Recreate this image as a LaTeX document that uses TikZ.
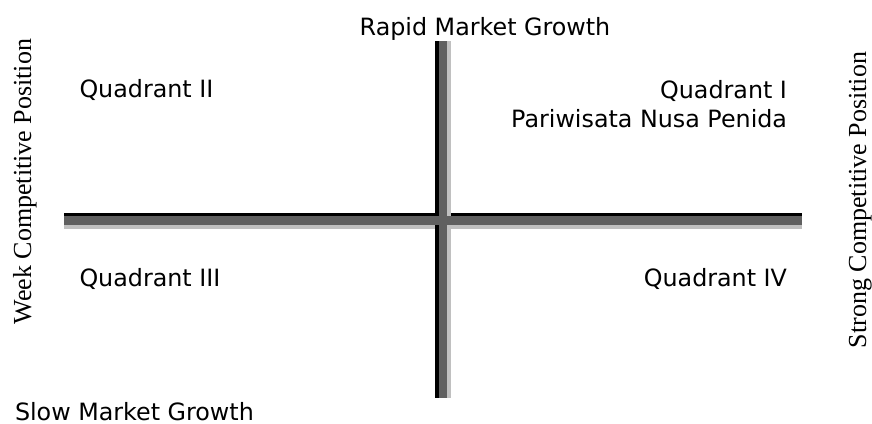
\documentclass[tikz,border=0pt]{standalone}
\usepackage{fontspec}
\setmainfont{Liberation Serif}
\newfontfamily\qsans{DejaVu Sans}
\definecolor{bardark}{HTML}{606060}
\definecolor{barlight}{HTML}{C0C0C0}
\begin{document}
\begin{tikzpicture}[x=1pt,y=-1pt,
  lbl/.style={inner sep=0pt,outer sep=0pt,font=\qsans\fontsize{23.8}{28}\selectfont},
  side/.style={inner sep=0pt,outer sep=0pt,rotate=90,anchor=base,font=\fontsize{26}{30}\selectfont}]
\useasboundingbox (0,0) rectangle (872,423);
% horizontal bar parts (under)
\fill[barlight] (64,224.5) rectangle (802,228.5);
\fill[black] (64,213) rectangle (802,216);
% vertical bar parts
\fill[barlight] (447,41) rectangle (451,398);
\fill[black] (435,41) rectangle (439,398);
% dark centres
\fill[bardark] (64,216) rectangle (802,224.5);
\fill[bardark] (439,41) rectangle (447,398);
% texts
\node[lbl,anchor=base] (top) at (485,35) {Rapid Market Growth};
\node[lbl,anchor=base west] (bottom) at (15,420) {Slow Market Growth};
\node[lbl,anchor=base west] (q2) at (79.5,97.5) {Quadrant II};
\node[lbl,anchor=base east] (q1) at (787,98) {Quadrant I};
\node[lbl,anchor=base east] (q1b) at (787,127) {Pariwisata Nusa Penida};
\node[lbl,anchor=base west] (q3) at (79.5,286.5) {Quadrant III};
\node[lbl,anchor=base east] (q4) at (787,286.5) {Quadrant IV};
\node[side] (weak) at (31,181.5) {Week Competitive Position};
\node[side] (strong) at (866,200) {Strong Competitive Position};
\end{tikzpicture}
\end{document}
